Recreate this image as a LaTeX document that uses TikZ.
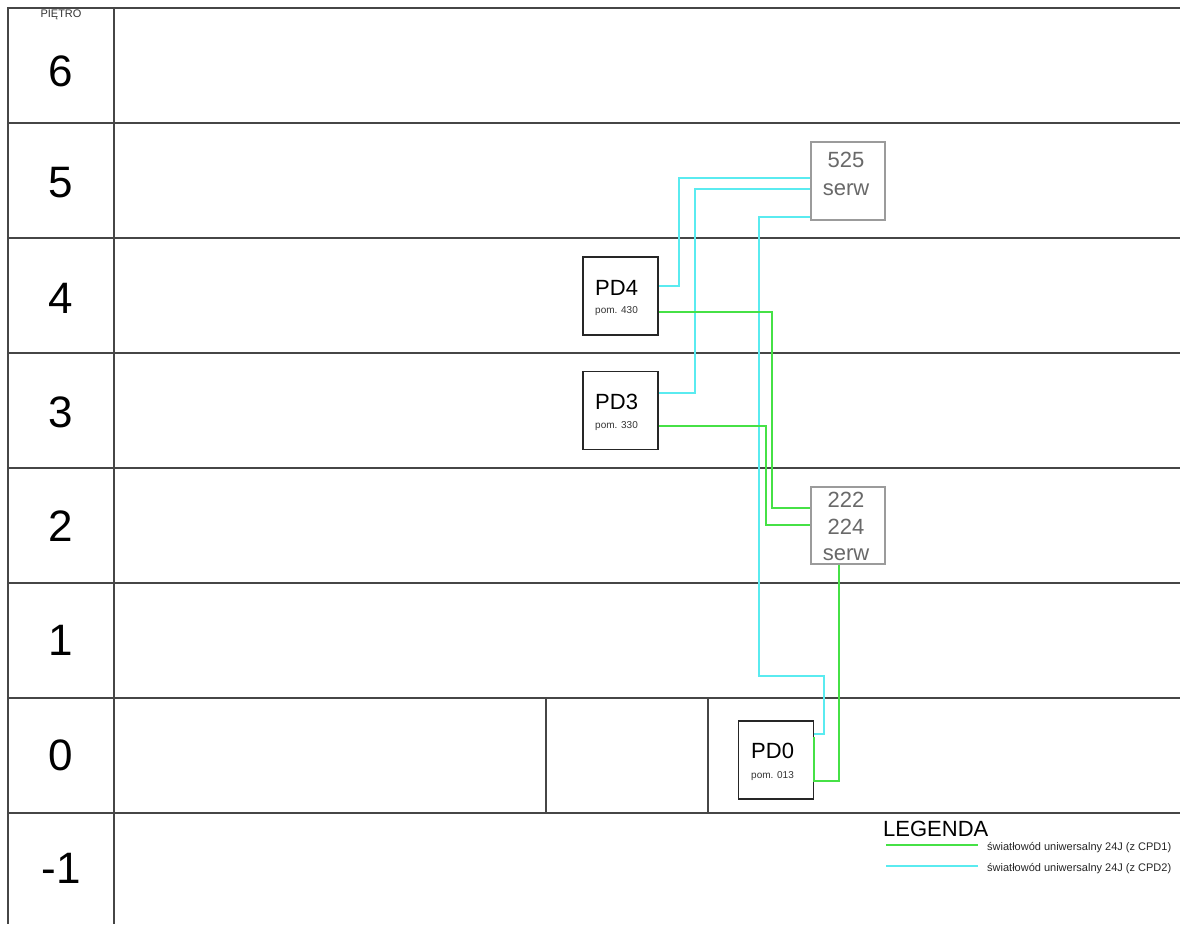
\documentclass[tikz,border=0pt]{standalone}
\usepackage{fontspec}
\setmainfont{Liberation Sans}
\definecolor{tbl}{RGB}{70,70,70}
\definecolor{cyl}{RGB}{90,235,240}
\definecolor{grl}{RGB}{70,225,70}
\definecolor{srvgray}{RGB}{155,155,155}
\definecolor{srvtext}{RGB}{105,105,105}
\begin{document}
\begin{tikzpicture}[x=1pt,y=-1pt,
  tline/.style={draw=tbl,line width=1.6pt},
  floorlbl/.style={font=\fontsize{44}{48}\selectfont,inner sep=0,anchor=center},
  pdbox/.style={draw=black!85,line width=1.5pt,minimum width=75pt,minimum height=78pt,inner sep=0},
  srvbox/.style={draw=srvgray,line width=1.3pt,minimum width=74pt,minimum height=78pt,inner sep=0},
  pdname/.style={font=\fontsize{22}{24}\selectfont,inner sep=0,anchor=base west},
  pdroom/.style={font=\fontsize{10}{12}\selectfont,inner sep=0,anchor=base west,text=black!80},
  srvtxt/.style={font=\fontsize{22}{24}\selectfont,inner sep=0,anchor=base,text=srvtext},
  cyw/.style={draw=cyl,line width=1.8pt},
  grw/.style={draw=grl,line width=1.8pt},
  legtxt/.style={font=\fontsize{11}{12}\selectfont,inner sep=0,anchor=base west,text=black!85}]
\useasboundingbox (0,0) rectangle (1180,924);
\fill[white] (0,0) rectangle (1180,924);
% table
\draw[tline] (1180,8) -- (8,8) -- (8,924);
\draw[tline] (114,8) -- (114,924);
\foreach \yy in {123,238,353,468,583,698,813}{\draw[tline] (8,\yy) -- (1180,\yy);}
\draw[tline] (546,698) -- (546,813);
\draw[tline] (708,698) -- (708,813);
% floor labels
\node[inner sep=0,font=\fontsize{11}{12}\selectfont,text=black!80] (pietro) at (61,15) {PIĘTRO};
\node[floorlbl] (f6) at (61,71) {6};
\node[floorlbl] (f5) at (61,183) {5};
\node[floorlbl] (f4) at (61,298) {4};
\node[floorlbl] (f3) at (61,412) {3};
\node[floorlbl] (f2) at (61,526) {2};
\node[floorlbl] (f1) at (61,640) {1};
\node[floorlbl] (f0) at (61,755) {0};
\node[floorlbl] (fm1) at (61,868) {-1};
% boxes
\node[pdbox] (pd4) at (620.5,296) {};
\node[pdbox] (pd3) at (620.5,410.5) {};
\node[pdbox] (pd0) at (776,760) {};
\node[srvbox] (s525) at (848,181) {};
\node[srvbox,minimum height=77pt] (s222) at (848,525.5) {};
% box texts
\node[pdname] (pd4n) at (595,295) {PD4};
\node[pdroom] (pd4r) at (595,313) {pom. 430};
\node[pdname] (pd3n) at (595,409) {PD3};
\node[pdroom] (pd3r) at (595,428) {pom. 330};
\node[pdname] (pd0n) at (751,758) {PD0};
\node[pdroom] (pd0r) at (751,778) {pom. 013};
\node[srvtxt] (t525) at (846,167) {525};
\node[srvtxt] (t525s) at (846,195) {serw};
\node[srvtxt] (t222) at (846,507) {222};
\node[srvtxt] (t224) at (846,534) {224};
\node[srvtxt] (t222s) at (846,560) {serw};
% cyan fibres
\draw[cyw] (s525.west |- 0,178) -| (679,286) -- (pd4.east |- 0,286);
\draw[cyw] (s525.west |- 0,189) -| (695,393) -- (pd3.east |- 0,393);
\draw[cyw] (s525.west |- 0,217) -| (759,676) -| (824,734) -- (pd0.east |- 0,734);
% green fibres
\draw[grw] (pd4.east |- 0,312) -| (772,508) -- (s222.west |- 0,508);
\draw[grw] (pd3.east |- 0,426) -| (766,525) -- (s222.west |- 0,525);
\draw[grw] (s222.south -| 839,0) |- (pd0.east |- 0,781) -- (pd0.east |- 0,737);
% legend
\node[inner sep=0,anchor=base west,font=\fontsize{22}{24}\selectfont] (leg) at (883,836) {LEGENDA};
\coordinate (lg1a) at (886,845);
\coordinate (lg1b) at (978,845);
\coordinate (lg2a) at (886,866);
\coordinate (lg2b) at (978,866);
\draw[grw] (lg1a) -- (lg1b);
\draw[cyw] (lg2a) -- (lg2b);
\node[legtxt] (leg1) at (987,850) {światłowód uniwersalny 24J (z CPD1)};
\node[legtxt] (leg2) at (987,871) {światłowód uniwersalny 24J (z CPD2)};
\end{tikzpicture}
\end{document}
